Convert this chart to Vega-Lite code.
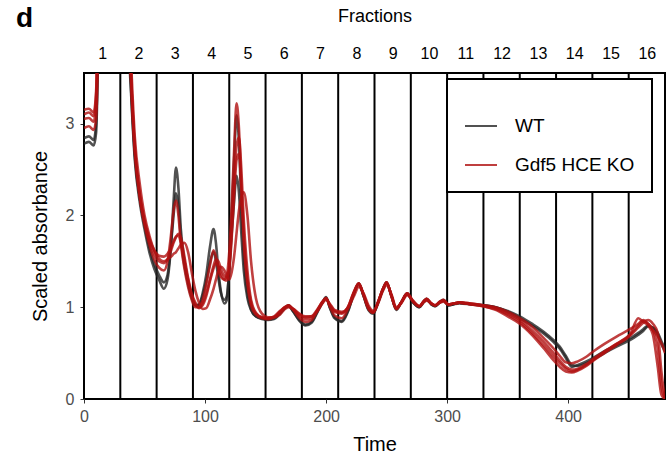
{
"$schema": "https://vega.github.io/schema/vega-lite/v6.json",
"width": 581, "height": 326,
"autosize": {"type": "none"},
"padding": {"left": 84, "top": 73, "right": 6, "bottom": 64},
"background": "white",
"config": {"font": "Liberation Sans", "view": {"stroke": "black", "strokeWidth": 2}, "legend": {"strokeWidth": 2}},
"title": {"text": "d", "anchor": "start", "frame": "bounds", "fontSize": 28, "fontWeight": "bold", "color": "black", "dx": -14, "dy": 30},
"datasets": {
"cuts": [{"p":0},{"p":30},{"p":60},{"p":90},{"p":120},{"p":150},{"p":180},{"p":210},{"p":240},{"p":270},{"p":300},{"p":330},{"p":360},{"p":390},{"p":420},{"p":450},{"p":480}],
"profiles": [
{"s":"w1","g":"WT","t":0,"v":2.78},{"s":"w1","g":"WT","t":4,"v":2.8},{"s":"w1","g":"WT","t":8,"v":2.76},{"s":"w1","g":"WT","t":10,"v":2.9},{"s":"w1","g":"WT","t":12,"v":4.0},{"s":"w1","g":"WT","t":16,"v":7},{"s":"w1","g":"WT","t":25,"v":9},{"s":"w1","g":"WT","t":32,"v":7},{"s":"w1","g":"WT","t":36,"v":4.2},{"s":"w1","g":"WT","t":39,"v":3.3},{"s":"w1","g":"WT","t":42,"v":2.6},{"s":"w1","g":"WT","t":46,"v":2.15},{"s":"w1","g":"WT","t":50,"v":1.85},{"s":"w1","g":"WT","t":54,"v":1.6},{"s":"w1","g":"WT","t":58,"v":1.42},{"s":"w1","g":"WT","t":62,"v":1.3},{"s":"w1","g":"WT","t":66,"v":1.2},{"s":"w1","g":"WT","t":69,"v":1.3},{"s":"w1","g":"WT","t":72,"v":1.7},{"s":"w1","g":"WT","t":74,"v":2.15},{"s":"w1","g":"WT","t":76,"v":2.52},{"s":"w1","g":"WT","t":78,"v":2.3},{"s":"w1","g":"WT","t":80,"v":1.85},{"s":"w1","g":"WT","t":83,"v":1.5},{"s":"w1","g":"WT","t":86,"v":1.28},{"s":"w1","g":"WT","t":89,"v":1.12},{"s":"w1","g":"WT","t":92,"v":1.02},{"s":"w1","g":"WT","t":95,"v":1.03},{"s":"w1","g":"WT","t":98,"v":1.15},{"s":"w1","g":"WT","t":101,"v":1.35},{"s":"w1","g":"WT","t":104,"v":1.65},{"s":"w1","g":"WT","t":107,"v":1.85},{"s":"w1","g":"WT","t":109,"v":1.7},{"s":"w1","g":"WT","t":111,"v":1.4},{"s":"w1","g":"WT","t":113,"v":1.18},{"s":"w1","g":"WT","t":116,"v":1.04},{"s":"w1","g":"WT","t":118,"v":1.08},{"s":"w1","g":"WT","t":120,"v":1.45},{"s":"w1","g":"WT","t":122,"v":2.0},{"s":"w1","g":"WT","t":124,"v":2.6},{"s":"w1","g":"WT","t":126,"v":3.09},{"s":"w1","g":"WT","t":128,"v":2.8},{"s":"w1","g":"WT","t":130,"v":2.1},{"s":"w1","g":"WT","t":132,"v":1.55},{"s":"w1","g":"WT","t":135,"v":1.15},{"s":"w1","g":"WT","t":138,"v":0.98},{"s":"w1","g":"WT","t":142,"v":0.9},{"s":"w1","g":"WT","t":147,"v":0.87},{"s":"w1","g":"WT","t":152,"v":0.86},{"s":"w1","g":"WT","t":157,"v":0.87},{"s":"w1","g":"WT","t":162,"v":0.93},{"s":"w1","g":"WT","t":166,"v":0.99},{"s":"w1","g":"WT","t":169,"v":1.02},{"s":"w1","g":"WT","t":173,"v":0.95},{"s":"w1","g":"WT","t":178,"v":0.85},{"s":"w1","g":"WT","t":183,"v":0.8},{"s":"w1","g":"WT","t":188,"v":0.83},{"s":"w1","g":"WT","t":193,"v":0.95},{"s":"w1","g":"WT","t":197,"v":1.05},{"s":"w1","g":"WT","t":200,"v":1.11},{"s":"w1","g":"WT","t":203,"v":1.0},{"s":"w1","g":"WT","t":207,"v":0.88},{"s":"w1","g":"WT","t":213,"v":0.84},{"s":"w1","g":"WT","t":218,"v":0.95},{"s":"w1","g":"WT","t":223,"v":1.15},{"s":"w1","g":"WT","t":227,"v":1.26},{"s":"w1","g":"WT","t":231,"v":1.12},{"s":"w1","g":"WT","t":235,"v":0.97},{"s":"w1","g":"WT","t":239,"v":0.93},{"s":"w1","g":"WT","t":243,"v":1.05},{"s":"w1","g":"WT","t":247,"v":1.2},{"s":"w1","g":"WT","t":250,"v":1.27},{"s":"w1","g":"WT","t":254,"v":1.12},{"s":"w1","g":"WT","t":258,"v":0.97},{"s":"w1","g":"WT","t":262,"v":1.05},{"s":"w1","g":"WT","t":267,"v":1.15},{"s":"w1","g":"WT","t":272,"v":1.05},{"s":"w1","g":"WT","t":277,"v":1.0},{"s":"w1","g":"WT","t":281,"v":1.07},{"s":"w1","g":"WT","t":283,"v":1.09},{"s":"w1","g":"WT","t":287,"v":1.03},{"s":"w1","g":"WT","t":290,"v":1.01},{"s":"w1","g":"WT","t":294,"v":1.06},{"s":"w1","g":"WT","t":297,"v":1.08},{"s":"w1","g":"WT","t":301,"v":1.02},{"s":"w1","g":"WT","t":305,"v":1.03},{"s":"w1","g":"WT","t":310,"v":1.05},{"s":"w1","g":"WT","t":320,"v":1.03},{"s":"w1","g":"WT","t":330,"v":1.02},{"s":"w1","g":"WT","t":340,"v":1.0},{"s":"w1","g":"WT","t":350,"v":0.95},{"s":"w1","g":"WT","t":360,"v":0.88},{"s":"w1","g":"WT","t":370,"v":0.8},{"s":"w1","g":"WT","t":380,"v":0.71},{"s":"w1","g":"WT","t":388,"v":0.62},{"s":"w1","g":"WT","t":393,"v":0.55},{"s":"w1","g":"WT","t":398,"v":0.45},{"s":"w1","g":"WT","t":403,"v":0.35},{"s":"w1","g":"WT","t":408,"v":0.37},{"s":"w1","g":"WT","t":415,"v":0.41},{"s":"w1","g":"WT","t":421,"v":0.45},{"s":"w1","g":"WT","t":430,"v":0.52},{"s":"w1","g":"WT","t":440,"v":0.59},{"s":"w1","g":"WT","t":451,"v":0.66},{"s":"w1","g":"WT","t":458,"v":0.72},{"s":"w1","g":"WT","t":462,"v":0.76},{"s":"w1","g":"WT","t":466,"v":0.8},{"s":"w1","g":"WT","t":470,"v":0.77},{"s":"w1","g":"WT","t":474,"v":0.7},{"s":"w1","g":"WT","t":478,"v":0.57},{"s":"w1","g":"WT","t":480,"v":0.52},
{"s":"w2","g":"WT","t":0,"v":2.84},{"s":"w2","g":"WT","t":4,"v":2.86},{"s":"w2","g":"WT","t":8,"v":2.82},{"s":"w2","g":"WT","t":10,"v":3.0},{"s":"w2","g":"WT","t":12,"v":4.2},{"s":"w2","g":"WT","t":16,"v":7},{"s":"w2","g":"WT","t":25,"v":9},{"s":"w2","g":"WT","t":32,"v":7},{"s":"w2","g":"WT","t":36,"v":4.3},{"s":"w2","g":"WT","t":39,"v":3.35},{"s":"w2","g":"WT","t":42,"v":2.65},{"s":"w2","g":"WT","t":46,"v":2.2},{"s":"w2","g":"WT","t":50,"v":1.9},{"s":"w2","g":"WT","t":54,"v":1.65},{"s":"w2","g":"WT","t":58,"v":1.47},{"s":"w2","g":"WT","t":62,"v":1.35},{"s":"w2","g":"WT","t":66,"v":1.27},{"s":"w2","g":"WT","t":69,"v":1.35},{"s":"w2","g":"WT","t":72,"v":1.7},{"s":"w2","g":"WT","t":74,"v":2.0},{"s":"w2","g":"WT","t":76,"v":2.24},{"s":"w2","g":"WT","t":78,"v":2.1},{"s":"w2","g":"WT","t":80,"v":1.75},{"s":"w2","g":"WT","t":83,"v":1.45},{"s":"w2","g":"WT","t":86,"v":1.25},{"s":"w2","g":"WT","t":89,"v":1.1},{"s":"w2","g":"WT","t":92,"v":1.02},{"s":"w2","g":"WT","t":95,"v":1.02},{"s":"w2","g":"WT","t":98,"v":1.12},{"s":"w2","g":"WT","t":101,"v":1.28},{"s":"w2","g":"WT","t":104,"v":1.48},{"s":"w2","g":"WT","t":107,"v":1.6},{"s":"w2","g":"WT","t":109,"v":1.5},{"s":"w2","g":"WT","t":111,"v":1.32},{"s":"w2","g":"WT","t":113,"v":1.16},{"s":"w2","g":"WT","t":116,"v":1.08},{"s":"w2","g":"WT","t":118,"v":1.12},{"s":"w2","g":"WT","t":120,"v":1.4},{"s":"w2","g":"WT","t":122,"v":1.8},{"s":"w2","g":"WT","t":124,"v":2.15},{"s":"w2","g":"WT","t":126,"v":2.43},{"s":"w2","g":"WT","t":128,"v":2.25},{"s":"w2","g":"WT","t":130,"v":1.8},{"s":"w2","g":"WT","t":132,"v":1.4},{"s":"w2","g":"WT","t":135,"v":1.1},{"s":"w2","g":"WT","t":138,"v":0.97},{"s":"w2","g":"WT","t":142,"v":0.9},{"s":"w2","g":"WT","t":147,"v":0.88},{"s":"w2","g":"WT","t":152,"v":0.87},{"s":"w2","g":"WT","t":157,"v":0.88},{"s":"w2","g":"WT","t":162,"v":0.94},{"s":"w2","g":"WT","t":166,"v":0.99},{"s":"w2","g":"WT","t":169,"v":1.01},{"s":"w2","g":"WT","t":173,"v":0.95},{"s":"w2","g":"WT","t":178,"v":0.86},{"s":"w2","g":"WT","t":183,"v":0.81},{"s":"w2","g":"WT","t":188,"v":0.84},{"s":"w2","g":"WT","t":193,"v":0.96},{"s":"w2","g":"WT","t":197,"v":1.05},{"s":"w2","g":"WT","t":200,"v":1.1},{"s":"w2","g":"WT","t":203,"v":1.0},{"s":"w2","g":"WT","t":207,"v":0.89},{"s":"w2","g":"WT","t":213,"v":0.85},{"s":"w2","g":"WT","t":218,"v":0.96},{"s":"w2","g":"WT","t":223,"v":1.15},{"s":"w2","g":"WT","t":227,"v":1.25},{"s":"w2","g":"WT","t":231,"v":1.12},{"s":"w2","g":"WT","t":235,"v":0.98},{"s":"w2","g":"WT","t":239,"v":0.94},{"s":"w2","g":"WT","t":243,"v":1.05},{"s":"w2","g":"WT","t":247,"v":1.19},{"s":"w2","g":"WT","t":250,"v":1.26},{"s":"w2","g":"WT","t":254,"v":1.12},{"s":"w2","g":"WT","t":258,"v":0.98},{"s":"w2","g":"WT","t":262,"v":1.05},{"s":"w2","g":"WT","t":267,"v":1.14},{"s":"w2","g":"WT","t":272,"v":1.05},{"s":"w2","g":"WT","t":277,"v":1.0},{"s":"w2","g":"WT","t":281,"v":1.06},{"s":"w2","g":"WT","t":283,"v":1.08},{"s":"w2","g":"WT","t":287,"v":1.03},{"s":"w2","g":"WT","t":290,"v":1.01},{"s":"w2","g":"WT","t":294,"v":1.05},{"s":"w2","g":"WT","t":297,"v":1.07},{"s":"w2","g":"WT","t":301,"v":1.02},{"s":"w2","g":"WT","t":305,"v":1.03},{"s":"w2","g":"WT","t":310,"v":1.04},{"s":"w2","g":"WT","t":320,"v":1.03},{"s":"w2","g":"WT","t":330,"v":1.02},{"s":"w2","g":"WT","t":340,"v":1.0},{"s":"w2","g":"WT","t":350,"v":0.96},{"s":"w2","g":"WT","t":360,"v":0.9},{"s":"w2","g":"WT","t":370,"v":0.82},{"s":"w2","g":"WT","t":380,"v":0.73},{"s":"w2","g":"WT","t":388,"v":0.64},{"s":"w2","g":"WT","t":393,"v":0.57},{"s":"w2","g":"WT","t":398,"v":0.47},{"s":"w2","g":"WT","t":403,"v":0.37},{"s":"w2","g":"WT","t":408,"v":0.36},{"s":"w2","g":"WT","t":415,"v":0.39},{"s":"w2","g":"WT","t":421,"v":0.43},{"s":"w2","g":"WT","t":430,"v":0.5},{"s":"w2","g":"WT","t":440,"v":0.57},{"s":"w2","g":"WT","t":451,"v":0.64},{"s":"w2","g":"WT","t":458,"v":0.7},{"s":"w2","g":"WT","t":462,"v":0.74},{"s":"w2","g":"WT","t":466,"v":0.79},{"s":"w2","g":"WT","t":470,"v":0.78},{"s":"w2","g":"WT","t":474,"v":0.72},{"s":"w2","g":"WT","t":478,"v":0.6},{"s":"w2","g":"WT","t":480,"v":0.55},
{"s":"k1","g":"Gdf5 HCE KO","t":0,"v":3.1},{"s":"k1","g":"Gdf5 HCE KO","t":4,"v":3.12},{"s":"k1","g":"Gdf5 HCE KO","t":8,"v":3.08},{"s":"k1","g":"Gdf5 HCE KO","t":10,"v":3.3},{"s":"k1","g":"Gdf5 HCE KO","t":12,"v":4.5},{"s":"k1","g":"Gdf5 HCE KO","t":16,"v":7.5},{"s":"k1","g":"Gdf5 HCE KO","t":25,"v":9},{"s":"k1","g":"Gdf5 HCE KO","t":32,"v":7.2},{"s":"k1","g":"Gdf5 HCE KO","t":36,"v":4.5},{"s":"k1","g":"Gdf5 HCE KO","t":39,"v":3.45},{"s":"k1","g":"Gdf5 HCE KO","t":42,"v":2.7},{"s":"k1","g":"Gdf5 HCE KO","t":46,"v":2.2},{"s":"k1","g":"Gdf5 HCE KO","t":50,"v":1.9},{"s":"k1","g":"Gdf5 HCE KO","t":54,"v":1.68},{"s":"k1","g":"Gdf5 HCE KO","t":58,"v":1.52},{"s":"k1","g":"Gdf5 HCE KO","t":62,"v":1.43},{"s":"k1","g":"Gdf5 HCE KO","t":66,"v":1.4},{"s":"k1","g":"Gdf5 HCE KO","t":69,"v":1.5},{"s":"k1","g":"Gdf5 HCE KO","t":72,"v":1.8},{"s":"k1","g":"Gdf5 HCE KO","t":74,"v":2.05},{"s":"k1","g":"Gdf5 HCE KO","t":76,"v":2.16},{"s":"k1","g":"Gdf5 HCE KO","t":78,"v":2.0},{"s":"k1","g":"Gdf5 HCE KO","t":80,"v":1.7},{"s":"k1","g":"Gdf5 HCE KO","t":83,"v":1.42},{"s":"k1","g":"Gdf5 HCE KO","t":86,"v":1.22},{"s":"k1","g":"Gdf5 HCE KO","t":89,"v":1.08},{"s":"k1","g":"Gdf5 HCE KO","t":92,"v":1.0},{"s":"k1","g":"Gdf5 HCE KO","t":95,"v":1.0},{"s":"k1","g":"Gdf5 HCE KO","t":98,"v":1.08},{"s":"k1","g":"Gdf5 HCE KO","t":101,"v":1.25},{"s":"k1","g":"Gdf5 HCE KO","t":104,"v":1.45},{"s":"k1","g":"Gdf5 HCE KO","t":107,"v":1.62},{"s":"k1","g":"Gdf5 HCE KO","t":109,"v":1.55},{"s":"k1","g":"Gdf5 HCE KO","t":111,"v":1.42},{"s":"k1","g":"Gdf5 HCE KO","t":113,"v":1.33},{"s":"k1","g":"Gdf5 HCE KO","t":116,"v":1.3},{"s":"k1","g":"Gdf5 HCE KO","t":118,"v":1.35},{"s":"k1","g":"Gdf5 HCE KO","t":120,"v":1.6},{"s":"k1","g":"Gdf5 HCE KO","t":122,"v":2.1},{"s":"k1","g":"Gdf5 HCE KO","t":124,"v":2.7},{"s":"k1","g":"Gdf5 HCE KO","t":126,"v":3.22},{"s":"k1","g":"Gdf5 HCE KO","t":128,"v":2.95},{"s":"k1","g":"Gdf5 HCE KO","t":130,"v":2.3},{"s":"k1","g":"Gdf5 HCE KO","t":132,"v":1.7},{"s":"k1","g":"Gdf5 HCE KO","t":135,"v":1.25},{"s":"k1","g":"Gdf5 HCE KO","t":138,"v":1.02},{"s":"k1","g":"Gdf5 HCE KO","t":142,"v":0.92},{"s":"k1","g":"Gdf5 HCE KO","t":147,"v":0.88},{"s":"k1","g":"Gdf5 HCE KO","t":152,"v":0.87},{"s":"k1","g":"Gdf5 HCE KO","t":157,"v":0.89},{"s":"k1","g":"Gdf5 HCE KO","t":162,"v":0.95},{"s":"k1","g":"Gdf5 HCE KO","t":166,"v":1.0},{"s":"k1","g":"Gdf5 HCE KO","t":169,"v":1.02},{"s":"k1","g":"Gdf5 HCE KO","t":173,"v":0.97},{"s":"k1","g":"Gdf5 HCE KO","t":178,"v":0.9},{"s":"k1","g":"Gdf5 HCE KO","t":183,"v":0.87},{"s":"k1","g":"Gdf5 HCE KO","t":188,"v":0.88},{"s":"k1","g":"Gdf5 HCE KO","t":193,"v":0.97},{"s":"k1","g":"Gdf5 HCE KO","t":197,"v":1.05},{"s":"k1","g":"Gdf5 HCE KO","t":200,"v":1.1},{"s":"k1","g":"Gdf5 HCE KO","t":203,"v":1.02},{"s":"k1","g":"Gdf5 HCE KO","t":207,"v":0.95},{"s":"k1","g":"Gdf5 HCE KO","t":213,"v":0.93},{"s":"k1","g":"Gdf5 HCE KO","t":218,"v":1.0},{"s":"k1","g":"Gdf5 HCE KO","t":223,"v":1.17},{"s":"k1","g":"Gdf5 HCE KO","t":227,"v":1.26},{"s":"k1","g":"Gdf5 HCE KO","t":231,"v":1.13},{"s":"k1","g":"Gdf5 HCE KO","t":235,"v":0.99},{"s":"k1","g":"Gdf5 HCE KO","t":239,"v":0.94},{"s":"k1","g":"Gdf5 HCE KO","t":243,"v":1.06},{"s":"k1","g":"Gdf5 HCE KO","t":247,"v":1.2},{"s":"k1","g":"Gdf5 HCE KO","t":250,"v":1.27},{"s":"k1","g":"Gdf5 HCE KO","t":254,"v":1.12},{"s":"k1","g":"Gdf5 HCE KO","t":258,"v":0.98},{"s":"k1","g":"Gdf5 HCE KO","t":262,"v":1.05},{"s":"k1","g":"Gdf5 HCE KO","t":267,"v":1.15},{"s":"k1","g":"Gdf5 HCE KO","t":272,"v":1.06},{"s":"k1","g":"Gdf5 HCE KO","t":277,"v":1.01},{"s":"k1","g":"Gdf5 HCE KO","t":281,"v":1.07},{"s":"k1","g":"Gdf5 HCE KO","t":283,"v":1.09},{"s":"k1","g":"Gdf5 HCE KO","t":287,"v":1.04},{"s":"k1","g":"Gdf5 HCE KO","t":290,"v":1.02},{"s":"k1","g":"Gdf5 HCE KO","t":294,"v":1.06},{"s":"k1","g":"Gdf5 HCE KO","t":297,"v":1.08},{"s":"k1","g":"Gdf5 HCE KO","t":301,"v":1.03},{"s":"k1","g":"Gdf5 HCE KO","t":305,"v":1.04},{"s":"k1","g":"Gdf5 HCE KO","t":310,"v":1.05},{"s":"k1","g":"Gdf5 HCE KO","t":320,"v":1.03},{"s":"k1","g":"Gdf5 HCE KO","t":330,"v":1.01},{"s":"k1","g":"Gdf5 HCE KO","t":340,"v":0.97},{"s":"k1","g":"Gdf5 HCE KO","t":350,"v":0.9},{"s":"k1","g":"Gdf5 HCE KO","t":360,"v":0.82},{"s":"k1","g":"Gdf5 HCE KO","t":370,"v":0.7},{"s":"k1","g":"Gdf5 HCE KO","t":380,"v":0.55},{"s":"k1","g":"Gdf5 HCE KO","t":388,"v":0.42},{"s":"k1","g":"Gdf5 HCE KO","t":393,"v":0.35},{"s":"k1","g":"Gdf5 HCE KO","t":398,"v":0.3},{"s":"k1","g":"Gdf5 HCE KO","t":403,"v":0.29},{"s":"k1","g":"Gdf5 HCE KO","t":408,"v":0.31},{"s":"k1","g":"Gdf5 HCE KO","t":415,"v":0.36},{"s":"k1","g":"Gdf5 HCE KO","t":421,"v":0.42},{"s":"k1","g":"Gdf5 HCE KO","t":430,"v":0.5},{"s":"k1","g":"Gdf5 HCE KO","t":440,"v":0.59},{"s":"k1","g":"Gdf5 HCE KO","t":451,"v":0.7},{"s":"k1","g":"Gdf5 HCE KO","t":458,"v":0.88},{"s":"k1","g":"Gdf5 HCE KO","t":462,"v":0.84},{"s":"k1","g":"Gdf5 HCE KO","t":466,"v":0.8},{"s":"k1","g":"Gdf5 HCE KO","t":470,"v":0.7},{"s":"k1","g":"Gdf5 HCE KO","t":474,"v":0.35},{"s":"k1","g":"Gdf5 HCE KO","t":477,"v":0.05},{"s":"k1","g":"Gdf5 HCE KO","t":480,"v":0.0},
{"s":"k2","g":"Gdf5 HCE KO","t":0,"v":3.05},{"s":"k2","g":"Gdf5 HCE KO","t":4,"v":3.06},{"s":"k2","g":"Gdf5 HCE KO","t":8,"v":3.02},{"s":"k2","g":"Gdf5 HCE KO","t":10,"v":3.2},{"s":"k2","g":"Gdf5 HCE KO","t":12,"v":4.4},{"s":"k2","g":"Gdf5 HCE KO","t":16,"v":7.4},{"s":"k2","g":"Gdf5 HCE KO","t":25,"v":9},{"s":"k2","g":"Gdf5 HCE KO","t":32,"v":7.3},{"s":"k2","g":"Gdf5 HCE KO","t":36,"v":4.6},{"s":"k2","g":"Gdf5 HCE KO","t":39,"v":3.5},{"s":"k2","g":"Gdf5 HCE KO","t":42,"v":2.75},{"s":"k2","g":"Gdf5 HCE KO","t":46,"v":2.25},{"s":"k2","g":"Gdf5 HCE KO","t":50,"v":1.95},{"s":"k2","g":"Gdf5 HCE KO","t":54,"v":1.75},{"s":"k2","g":"Gdf5 HCE KO","t":58,"v":1.62},{"s":"k2","g":"Gdf5 HCE KO","t":62,"v":1.56},{"s":"k2","g":"Gdf5 HCE KO","t":66,"v":1.55},{"s":"k2","g":"Gdf5 HCE KO","t":69,"v":1.58},{"s":"k2","g":"Gdf5 HCE KO","t":72,"v":1.65},{"s":"k2","g":"Gdf5 HCE KO","t":74,"v":1.72},{"s":"k2","g":"Gdf5 HCE KO","t":76,"v":1.77},{"s":"k2","g":"Gdf5 HCE KO","t":78,"v":1.78},{"s":"k2","g":"Gdf5 HCE KO","t":80,"v":1.7},{"s":"k2","g":"Gdf5 HCE KO","t":83,"v":1.5},{"s":"k2","g":"Gdf5 HCE KO","t":86,"v":1.3},{"s":"k2","g":"Gdf5 HCE KO","t":89,"v":1.13},{"s":"k2","g":"Gdf5 HCE KO","t":92,"v":1.03},{"s":"k2","g":"Gdf5 HCE KO","t":95,"v":0.99},{"s":"k2","g":"Gdf5 HCE KO","t":98,"v":1.02},{"s":"k2","g":"Gdf5 HCE KO","t":101,"v":1.12},{"s":"k2","g":"Gdf5 HCE KO","t":104,"v":1.28},{"s":"k2","g":"Gdf5 HCE KO","t":107,"v":1.42},{"s":"k2","g":"Gdf5 HCE KO","t":109,"v":1.48},{"s":"k2","g":"Gdf5 HCE KO","t":111,"v":1.45},{"s":"k2","g":"Gdf5 HCE KO","t":113,"v":1.37},{"s":"k2","g":"Gdf5 HCE KO","t":116,"v":1.3},{"s":"k2","g":"Gdf5 HCE KO","t":118,"v":1.29},{"s":"k2","g":"Gdf5 HCE KO","t":120,"v":1.4},{"s":"k2","g":"Gdf5 HCE KO","t":122,"v":1.75},{"s":"k2","g":"Gdf5 HCE KO","t":124,"v":2.2},{"s":"k2","g":"Gdf5 HCE KO","t":126,"v":2.6},{"s":"k2","g":"Gdf5 HCE KO","t":128,"v":2.67},{"s":"k2","g":"Gdf5 HCE KO","t":130,"v":2.3},{"s":"k2","g":"Gdf5 HCE KO","t":132,"v":1.8},{"s":"k2","g":"Gdf5 HCE KO","t":135,"v":1.3},{"s":"k2","g":"Gdf5 HCE KO","t":138,"v":1.05},{"s":"k2","g":"Gdf5 HCE KO","t":142,"v":0.93},{"s":"k2","g":"Gdf5 HCE KO","t":147,"v":0.89},{"s":"k2","g":"Gdf5 HCE KO","t":152,"v":0.88},{"s":"k2","g":"Gdf5 HCE KO","t":157,"v":0.9},{"s":"k2","g":"Gdf5 HCE KO","t":162,"v":0.96},{"s":"k2","g":"Gdf5 HCE KO","t":166,"v":1.0},{"s":"k2","g":"Gdf5 HCE KO","t":169,"v":1.01},{"s":"k2","g":"Gdf5 HCE KO","t":173,"v":0.98},{"s":"k2","g":"Gdf5 HCE KO","t":178,"v":0.92},{"s":"k2","g":"Gdf5 HCE KO","t":183,"v":0.89},{"s":"k2","g":"Gdf5 HCE KO","t":188,"v":0.9},{"s":"k2","g":"Gdf5 HCE KO","t":193,"v":0.98},{"s":"k2","g":"Gdf5 HCE KO","t":197,"v":1.06},{"s":"k2","g":"Gdf5 HCE KO","t":200,"v":1.09},{"s":"k2","g":"Gdf5 HCE KO","t":203,"v":1.03},{"s":"k2","g":"Gdf5 HCE KO","t":207,"v":0.96},{"s":"k2","g":"Gdf5 HCE KO","t":213,"v":0.94},{"s":"k2","g":"Gdf5 HCE KO","t":218,"v":1.0},{"s":"k2","g":"Gdf5 HCE KO","t":223,"v":1.16},{"s":"k2","g":"Gdf5 HCE KO","t":227,"v":1.25},{"s":"k2","g":"Gdf5 HCE KO","t":231,"v":1.14},{"s":"k2","g":"Gdf5 HCE KO","t":235,"v":1.0},{"s":"k2","g":"Gdf5 HCE KO","t":239,"v":0.95},{"s":"k2","g":"Gdf5 HCE KO","t":243,"v":1.06},{"s":"k2","g":"Gdf5 HCE KO","t":247,"v":1.2},{"s":"k2","g":"Gdf5 HCE KO","t":250,"v":1.26},{"s":"k2","g":"Gdf5 HCE KO","t":254,"v":1.13},{"s":"k2","g":"Gdf5 HCE KO","t":258,"v":0.99},{"s":"k2","g":"Gdf5 HCE KO","t":262,"v":1.05},{"s":"k2","g":"Gdf5 HCE KO","t":267,"v":1.14},{"s":"k2","g":"Gdf5 HCE KO","t":272,"v":1.06},{"s":"k2","g":"Gdf5 HCE KO","t":277,"v":1.01},{"s":"k2","g":"Gdf5 HCE KO","t":281,"v":1.06},{"s":"k2","g":"Gdf5 HCE KO","t":283,"v":1.08},{"s":"k2","g":"Gdf5 HCE KO","t":287,"v":1.04},{"s":"k2","g":"Gdf5 HCE KO","t":290,"v":1.02},{"s":"k2","g":"Gdf5 HCE KO","t":294,"v":1.05},{"s":"k2","g":"Gdf5 HCE KO","t":297,"v":1.07},{"s":"k2","g":"Gdf5 HCE KO","t":301,"v":1.03},{"s":"k2","g":"Gdf5 HCE KO","t":305,"v":1.04},{"s":"k2","g":"Gdf5 HCE KO","t":310,"v":1.05},{"s":"k2","g":"Gdf5 HCE KO","t":320,"v":1.04},{"s":"k2","g":"Gdf5 HCE KO","t":330,"v":1.02},{"s":"k2","g":"Gdf5 HCE KO","t":340,"v":0.99},{"s":"k2","g":"Gdf5 HCE KO","t":350,"v":0.93},{"s":"k2","g":"Gdf5 HCE KO","t":360,"v":0.86},{"s":"k2","g":"Gdf5 HCE KO","t":370,"v":0.75},{"s":"k2","g":"Gdf5 HCE KO","t":380,"v":0.62},{"s":"k2","g":"Gdf5 HCE KO","t":388,"v":0.5},{"s":"k2","g":"Gdf5 HCE KO","t":393,"v":0.42},{"s":"k2","g":"Gdf5 HCE KO","t":398,"v":0.35},{"s":"k2","g":"Gdf5 HCE KO","t":403,"v":0.32},{"s":"k2","g":"Gdf5 HCE KO","t":408,"v":0.33},{"s":"k2","g":"Gdf5 HCE KO","t":415,"v":0.38},{"s":"k2","g":"Gdf5 HCE KO","t":421,"v":0.44},{"s":"k2","g":"Gdf5 HCE KO","t":430,"v":0.52},{"s":"k2","g":"Gdf5 HCE KO","t":440,"v":0.6},{"s":"k2","g":"Gdf5 HCE KO","t":451,"v":0.7},{"s":"k2","g":"Gdf5 HCE KO","t":458,"v":0.8},{"s":"k2","g":"Gdf5 HCE KO","t":462,"v":0.85},{"s":"k2","g":"Gdf5 HCE KO","t":466,"v":0.82},{"s":"k2","g":"Gdf5 HCE KO","t":470,"v":0.75},{"s":"k2","g":"Gdf5 HCE KO","t":474,"v":0.55},{"s":"k2","g":"Gdf5 HCE KO","t":477,"v":0.15},{"s":"k2","g":"Gdf5 HCE KO","t":480,"v":0.0},
{"s":"k3","g":"Gdf5 HCE KO","t":0,"v":2.95},{"s":"k3","g":"Gdf5 HCE KO","t":4,"v":2.97},{"s":"k3","g":"Gdf5 HCE KO","t":8,"v":2.93},{"s":"k3","g":"Gdf5 HCE KO","t":10,"v":3.05},{"s":"k3","g":"Gdf5 HCE KO","t":12,"v":4.0},{"s":"k3","g":"Gdf5 HCE KO","t":16,"v":7},{"s":"k3","g":"Gdf5 HCE KO","t":25,"v":9},{"s":"k3","g":"Gdf5 HCE KO","t":32,"v":7.5},{"s":"k3","g":"Gdf5 HCE KO","t":36,"v":4.8},{"s":"k3","g":"Gdf5 HCE KO","t":39,"v":3.65},{"s":"k3","g":"Gdf5 HCE KO","t":42,"v":2.85},{"s":"k3","g":"Gdf5 HCE KO","t":46,"v":2.35},{"s":"k3","g":"Gdf5 HCE KO","t":50,"v":2.0},{"s":"k3","g":"Gdf5 HCE KO","t":54,"v":1.78},{"s":"k3","g":"Gdf5 HCE KO","t":58,"v":1.62},{"s":"k3","g":"Gdf5 HCE KO","t":62,"v":1.53},{"s":"k3","g":"Gdf5 HCE KO","t":66,"v":1.5},{"s":"k3","g":"Gdf5 HCE KO","t":69,"v":1.52},{"s":"k3","g":"Gdf5 HCE KO","t":72,"v":1.55},{"s":"k3","g":"Gdf5 HCE KO","t":74,"v":1.58},{"s":"k3","g":"Gdf5 HCE KO","t":76,"v":1.6},{"s":"k3","g":"Gdf5 HCE KO","t":78,"v":1.64},{"s":"k3","g":"Gdf5 HCE KO","t":80,"v":1.68},{"s":"k3","g":"Gdf5 HCE KO","t":83,"v":1.7},{"s":"k3","g":"Gdf5 HCE KO","t":86,"v":1.6},{"s":"k3","g":"Gdf5 HCE KO","t":89,"v":1.38},{"s":"k3","g":"Gdf5 HCE KO","t":92,"v":1.18},{"s":"k3","g":"Gdf5 HCE KO","t":95,"v":1.05},{"s":"k3","g":"Gdf5 HCE KO","t":98,"v":0.98},{"s":"k3","g":"Gdf5 HCE KO","t":101,"v":0.99},{"s":"k3","g":"Gdf5 HCE KO","t":104,"v":1.08},{"s":"k3","g":"Gdf5 HCE KO","t":107,"v":1.2},{"s":"k3","g":"Gdf5 HCE KO","t":109,"v":1.3},{"s":"k3","g":"Gdf5 HCE KO","t":111,"v":1.4},{"s":"k3","g":"Gdf5 HCE KO","t":113,"v":1.44},{"s":"k3","g":"Gdf5 HCE KO","t":116,"v":1.4},{"s":"k3","g":"Gdf5 HCE KO","t":118,"v":1.34},{"s":"k3","g":"Gdf5 HCE KO","t":120,"v":1.3},{"s":"k3","g":"Gdf5 HCE KO","t":122,"v":1.38},{"s":"k3","g":"Gdf5 HCE KO","t":124,"v":1.55},{"s":"k3","g":"Gdf5 HCE KO","t":126,"v":1.8},{"s":"k3","g":"Gdf5 HCE KO","t":128,"v":2.05},{"s":"k3","g":"Gdf5 HCE KO","t":130,"v":2.2},{"s":"k3","g":"Gdf5 HCE KO","t":132,"v":2.25},{"s":"k3","g":"Gdf5 HCE KO","t":135,"v":2.0},{"s":"k3","g":"Gdf5 HCE KO","t":138,"v":1.5},{"s":"k3","g":"Gdf5 HCE KO","t":142,"v":1.1},{"s":"k3","g":"Gdf5 HCE KO","t":147,"v":0.93},{"s":"k3","g":"Gdf5 HCE KO","t":152,"v":0.89},{"s":"k3","g":"Gdf5 HCE KO","t":157,"v":0.89},{"s":"k3","g":"Gdf5 HCE KO","t":162,"v":0.92},{"s":"k3","g":"Gdf5 HCE KO","t":166,"v":0.98},{"s":"k3","g":"Gdf5 HCE KO","t":169,"v":1.0},{"s":"k3","g":"Gdf5 HCE KO","t":173,"v":0.98},{"s":"k3","g":"Gdf5 HCE KO","t":178,"v":0.93},{"s":"k3","g":"Gdf5 HCE KO","t":183,"v":0.9},{"s":"k3","g":"Gdf5 HCE KO","t":188,"v":0.9},{"s":"k3","g":"Gdf5 HCE KO","t":193,"v":0.96},{"s":"k3","g":"Gdf5 HCE KO","t":197,"v":1.04},{"s":"k3","g":"Gdf5 HCE KO","t":200,"v":1.08},{"s":"k3","g":"Gdf5 HCE KO","t":203,"v":1.04},{"s":"k3","g":"Gdf5 HCE KO","t":207,"v":0.97},{"s":"k3","g":"Gdf5 HCE KO","t":213,"v":0.95},{"s":"k3","g":"Gdf5 HCE KO","t":218,"v":0.99},{"s":"k3","g":"Gdf5 HCE KO","t":223,"v":1.12},{"s":"k3","g":"Gdf5 HCE KO","t":227,"v":1.22},{"s":"k3","g":"Gdf5 HCE KO","t":231,"v":1.15},{"s":"k3","g":"Gdf5 HCE KO","t":235,"v":1.02},{"s":"k3","g":"Gdf5 HCE KO","t":239,"v":0.96},{"s":"k3","g":"Gdf5 HCE KO","t":243,"v":1.04},{"s":"k3","g":"Gdf5 HCE KO","t":247,"v":1.18},{"s":"k3","g":"Gdf5 HCE KO","t":250,"v":1.24},{"s":"k3","g":"Gdf5 HCE KO","t":254,"v":1.14},{"s":"k3","g":"Gdf5 HCE KO","t":258,"v":1.0},{"s":"k3","g":"Gdf5 HCE KO","t":262,"v":1.04},{"s":"k3","g":"Gdf5 HCE KO","t":267,"v":1.13},{"s":"k3","g":"Gdf5 HCE KO","t":272,"v":1.07},{"s":"k3","g":"Gdf5 HCE KO","t":277,"v":1.01},{"s":"k3","g":"Gdf5 HCE KO","t":281,"v":1.06},{"s":"k3","g":"Gdf5 HCE KO","t":283,"v":1.07},{"s":"k3","g":"Gdf5 HCE KO","t":287,"v":1.04},{"s":"k3","g":"Gdf5 HCE KO","t":290,"v":1.02},{"s":"k3","g":"Gdf5 HCE KO","t":294,"v":1.05},{"s":"k3","g":"Gdf5 HCE KO","t":297,"v":1.06},{"s":"k3","g":"Gdf5 HCE KO","t":301,"v":1.03},{"s":"k3","g":"Gdf5 HCE KO","t":305,"v":1.04},{"s":"k3","g":"Gdf5 HCE KO","t":310,"v":1.05},{"s":"k3","g":"Gdf5 HCE KO","t":320,"v":1.04},{"s":"k3","g":"Gdf5 HCE KO","t":330,"v":1.02},{"s":"k3","g":"Gdf5 HCE KO","t":340,"v":1.0},{"s":"k3","g":"Gdf5 HCE KO","t":350,"v":0.95},{"s":"k3","g":"Gdf5 HCE KO","t":360,"v":0.88},{"s":"k3","g":"Gdf5 HCE KO","t":370,"v":0.79},{"s":"k3","g":"Gdf5 HCE KO","t":380,"v":0.66},{"s":"k3","g":"Gdf5 HCE KO","t":388,"v":0.55},{"s":"k3","g":"Gdf5 HCE KO","t":393,"v":0.47},{"s":"k3","g":"Gdf5 HCE KO","t":398,"v":0.4},{"s":"k3","g":"Gdf5 HCE KO","t":403,"v":0.39},{"s":"k3","g":"Gdf5 HCE KO","t":408,"v":0.41},{"s":"k3","g":"Gdf5 HCE KO","t":415,"v":0.46},{"s":"k3","g":"Gdf5 HCE KO","t":421,"v":0.52},{"s":"k3","g":"Gdf5 HCE KO","t":430,"v":0.6},{"s":"k3","g":"Gdf5 HCE KO","t":440,"v":0.68},{"s":"k3","g":"Gdf5 HCE KO","t":451,"v":0.76},{"s":"k3","g":"Gdf5 HCE KO","t":458,"v":0.82},{"s":"k3","g":"Gdf5 HCE KO","t":462,"v":0.86},{"s":"k3","g":"Gdf5 HCE KO","t":466,"v":0.82},{"s":"k3","g":"Gdf5 HCE KO","t":470,"v":0.75},{"s":"k3","g":"Gdf5 HCE KO","t":474,"v":0.68},{"s":"k3","g":"Gdf5 HCE KO","t":478,"v":0.58},{"s":"k3","g":"Gdf5 HCE KO","t":480,"v":0.5},
{"s":"k4","g":"Gdf5 HCE KO","t":0,"v":3.15},{"s":"k4","g":"Gdf5 HCE KO","t":4,"v":3.16},{"s":"k4","g":"Gdf5 HCE KO","t":8,"v":3.12},{"s":"k4","g":"Gdf5 HCE KO","t":10,"v":3.35},{"s":"k4","g":"Gdf5 HCE KO","t":12,"v":4.6},{"s":"k4","g":"Gdf5 HCE KO","t":16,"v":7.5},{"s":"k4","g":"Gdf5 HCE KO","t":25,"v":9},{"s":"k4","g":"Gdf5 HCE KO","t":32,"v":7.2},{"s":"k4","g":"Gdf5 HCE KO","t":36,"v":4.5},{"s":"k4","g":"Gdf5 HCE KO","t":39,"v":3.45},{"s":"k4","g":"Gdf5 HCE KO","t":42,"v":2.7},{"s":"k4","g":"Gdf5 HCE KO","t":46,"v":2.22},{"s":"k4","g":"Gdf5 HCE KO","t":50,"v":1.92},{"s":"k4","g":"Gdf5 HCE KO","t":54,"v":1.72},{"s":"k4","g":"Gdf5 HCE KO","t":58,"v":1.58},{"s":"k4","g":"Gdf5 HCE KO","t":62,"v":1.5},{"s":"k4","g":"Gdf5 HCE KO","t":66,"v":1.48},{"s":"k4","g":"Gdf5 HCE KO","t":69,"v":1.52},{"s":"k4","g":"Gdf5 HCE KO","t":72,"v":1.62},{"s":"k4","g":"Gdf5 HCE KO","t":74,"v":1.7},{"s":"k4","g":"Gdf5 HCE KO","t":76,"v":1.76},{"s":"k4","g":"Gdf5 HCE KO","t":78,"v":1.8},{"s":"k4","g":"Gdf5 HCE KO","t":80,"v":1.76},{"s":"k4","g":"Gdf5 HCE KO","t":83,"v":1.55},{"s":"k4","g":"Gdf5 HCE KO","t":86,"v":1.32},{"s":"k4","g":"Gdf5 HCE KO","t":89,"v":1.15},{"s":"k4","g":"Gdf5 HCE KO","t":92,"v":1.05},{"s":"k4","g":"Gdf5 HCE KO","t":95,"v":1.0},{"s":"k4","g":"Gdf5 HCE KO","t":98,"v":1.04},{"s":"k4","g":"Gdf5 HCE KO","t":101,"v":1.15},{"s":"k4","g":"Gdf5 HCE KO","t":104,"v":1.3},{"s":"k4","g":"Gdf5 HCE KO","t":107,"v":1.45},{"s":"k4","g":"Gdf5 HCE KO","t":109,"v":1.52},{"s":"k4","g":"Gdf5 HCE KO","t":111,"v":1.5},{"s":"k4","g":"Gdf5 HCE KO","t":113,"v":1.42},{"s":"k4","g":"Gdf5 HCE KO","t":116,"v":1.34},{"s":"k4","g":"Gdf5 HCE KO","t":118,"v":1.32},{"s":"k4","g":"Gdf5 HCE KO","t":120,"v":1.45},{"s":"k4","g":"Gdf5 HCE KO","t":122,"v":1.85},{"s":"k4","g":"Gdf5 HCE KO","t":124,"v":2.35},{"s":"k4","g":"Gdf5 HCE KO","t":126,"v":2.75},{"s":"k4","g":"Gdf5 HCE KO","t":128,"v":2.85},{"s":"k4","g":"Gdf5 HCE KO","t":130,"v":2.5},{"s":"k4","g":"Gdf5 HCE KO","t":132,"v":1.95},{"s":"k4","g":"Gdf5 HCE KO","t":135,"v":1.4},{"s":"k4","g":"Gdf5 HCE KO","t":138,"v":1.08},{"s":"k4","g":"Gdf5 HCE KO","t":142,"v":0.94},{"s":"k4","g":"Gdf5 HCE KO","t":147,"v":0.89},{"s":"k4","g":"Gdf5 HCE KO","t":152,"v":0.88},{"s":"k4","g":"Gdf5 HCE KO","t":157,"v":0.89},{"s":"k4","g":"Gdf5 HCE KO","t":162,"v":0.95},{"s":"k4","g":"Gdf5 HCE KO","t":166,"v":1.0},{"s":"k4","g":"Gdf5 HCE KO","t":169,"v":1.02},{"s":"k4","g":"Gdf5 HCE KO","t":173,"v":0.97},{"s":"k4","g":"Gdf5 HCE KO","t":178,"v":0.88},{"s":"k4","g":"Gdf5 HCE KO","t":183,"v":0.84},{"s":"k4","g":"Gdf5 HCE KO","t":188,"v":0.86},{"s":"k4","g":"Gdf5 HCE KO","t":193,"v":0.97},{"s":"k4","g":"Gdf5 HCE KO","t":197,"v":1.06},{"s":"k4","g":"Gdf5 HCE KO","t":200,"v":1.1},{"s":"k4","g":"Gdf5 HCE KO","t":203,"v":1.01},{"s":"k4","g":"Gdf5 HCE KO","t":207,"v":0.91},{"s":"k4","g":"Gdf5 HCE KO","t":213,"v":0.88},{"s":"k4","g":"Gdf5 HCE KO","t":218,"v":0.98},{"s":"k4","g":"Gdf5 HCE KO","t":223,"v":1.16},{"s":"k4","g":"Gdf5 HCE KO","t":227,"v":1.26},{"s":"k4","g":"Gdf5 HCE KO","t":231,"v":1.13},{"s":"k4","g":"Gdf5 HCE KO","t":235,"v":0.98},{"s":"k4","g":"Gdf5 HCE KO","t":239,"v":0.94},{"s":"k4","g":"Gdf5 HCE KO","t":243,"v":1.06},{"s":"k4","g":"Gdf5 HCE KO","t":247,"v":1.2},{"s":"k4","g":"Gdf5 HCE KO","t":250,"v":1.27},{"s":"k4","g":"Gdf5 HCE KO","t":254,"v":1.12},{"s":"k4","g":"Gdf5 HCE KO","t":258,"v":0.98},{"s":"k4","g":"Gdf5 HCE KO","t":262,"v":1.05},{"s":"k4","g":"Gdf5 HCE KO","t":267,"v":1.15},{"s":"k4","g":"Gdf5 HCE KO","t":272,"v":1.06},{"s":"k4","g":"Gdf5 HCE KO","t":277,"v":1.01},{"s":"k4","g":"Gdf5 HCE KO","t":281,"v":1.07},{"s":"k4","g":"Gdf5 HCE KO","t":283,"v":1.09},{"s":"k4","g":"Gdf5 HCE KO","t":287,"v":1.04},{"s":"k4","g":"Gdf5 HCE KO","t":290,"v":1.02},{"s":"k4","g":"Gdf5 HCE KO","t":294,"v":1.06},{"s":"k4","g":"Gdf5 HCE KO","t":297,"v":1.07},{"s":"k4","g":"Gdf5 HCE KO","t":301,"v":1.03},{"s":"k4","g":"Gdf5 HCE KO","t":305,"v":1.04},{"s":"k4","g":"Gdf5 HCE KO","t":310,"v":1.05},{"s":"k4","g":"Gdf5 HCE KO","t":320,"v":1.03},{"s":"k4","g":"Gdf5 HCE KO","t":330,"v":1.01},{"s":"k4","g":"Gdf5 HCE KO","t":340,"v":0.98},{"s":"k4","g":"Gdf5 HCE KO","t":350,"v":0.92},{"s":"k4","g":"Gdf5 HCE KO","t":360,"v":0.84},{"s":"k4","g":"Gdf5 HCE KO","t":370,"v":0.72},{"s":"k4","g":"Gdf5 HCE KO","t":380,"v":0.58},{"s":"k4","g":"Gdf5 HCE KO","t":388,"v":0.46},{"s":"k4","g":"Gdf5 HCE KO","t":393,"v":0.39},{"s":"k4","g":"Gdf5 HCE KO","t":398,"v":0.33},{"s":"k4","g":"Gdf5 HCE KO","t":403,"v":0.3},{"s":"k4","g":"Gdf5 HCE KO","t":408,"v":0.32},{"s":"k4","g":"Gdf5 HCE KO","t":415,"v":0.37},{"s":"k4","g":"Gdf5 HCE KO","t":421,"v":0.43},{"s":"k4","g":"Gdf5 HCE KO","t":430,"v":0.51},{"s":"k4","g":"Gdf5 HCE KO","t":440,"v":0.6},{"s":"k4","g":"Gdf5 HCE KO","t":451,"v":0.69},{"s":"k4","g":"Gdf5 HCE KO","t":458,"v":0.78},{"s":"k4","g":"Gdf5 HCE KO","t":462,"v":0.83},{"s":"k4","g":"Gdf5 HCE KO","t":466,"v":0.86},{"s":"k4","g":"Gdf5 HCE KO","t":470,"v":0.82},{"s":"k4","g":"Gdf5 HCE KO","t":474,"v":0.72},{"s":"k4","g":"Gdf5 HCE KO","t":477,"v":0.3},{"s":"k4","g":"Gdf5 HCE KO","t":480,"v":0.0}
]
},
"layer": [
{
"data": {"name": "cuts"},
"mark": {"type": "rule", "color": "black", "strokeWidth": 2},
"encoding": {
"x": {"field": "p", "type": "quantitative", "scale": {"domain": [0, 480], "nice": false, "zero": false},
"axis": {"orient": "top", "values": [15,45,75,105,135,165,195,225,255,285,315,345,375,405,435,465], "labelExpr": "(datum.value + 15) / 30", "title": "Fractions", "ticks": false, "domain": false, "grid": false, "labelFontSize": 16, "labelColor": "black", "labelPadding": 12, "labelFlush": false, "labelOverlap": false, "titleFontSize": 18, "titleFontWeight": "normal", "titleColor": "black", "titlePadding": 20}}
}
},
{
"data": {"name": "profiles"},
"mark": {"type": "line", "clip": true, "strokeWidth": 2.6, "interpolate": "monotone", "opacity": 0.8},
"encoding": {
"x": {"field": "t", "type": "quantitative", "scale": {"domain": [0, 480], "nice": false, "zero": false},
"axis": {"orient": "bottom", "values": [0,100,200,300,400], "title": "Time", "grid": false, "domain": false, "tickColor": "#333333", "tickSize": 4, "labelFontSize": 16, "labelColor": "#4d4d4d", "labelPadding": 5, "labelFlush": false, "titleFontSize": 20, "titleFontWeight": "normal", "titleColor": "black", "titlePadding": 10}},
"y": {"field": "v", "type": "quantitative", "scale": {"domain": [0, 3.55], "nice": false, "zero": false},
"axis": {"values": [0,1,2,3], "title": "Scaled absorbance", "grid": false, "domain": false, "tickColor": "#333333", "tickSize": 4, "labelFontSize": 16, "labelColor": "#4d4d4d", "labelPadding": 6, "labelFlush": false, "titleFontSize": 20, "titleFontWeight": "normal", "titleColor": "black", "titlePadding": 15}},
"color": {"field": "g", "type": "nominal", "sort": ["WT", "Gdf5 HCE KO"], "scale": {"domain": ["WT", "Gdf5 HCE KO"], "range": ["#262626", "#b01010"]},
"legend": {"orient": "none", "legendX": 363, "legendY": 6, "title": " ", "titleFontSize": 12, "titlePadding": 1, "fillColor": "white", "strokeColor": "black", "padding": 17, "symbolType": "stroke", "symbolSize": 1024, "symbolStrokeWidth": 2, "rowPadding": 12, "labelFontSize": 19, "labelColor": "black", "labelOffset": 17}},
"detail": {"field": "s"}
}
}
],
"resolve": {"axis": {"x": "independent"}}
}
